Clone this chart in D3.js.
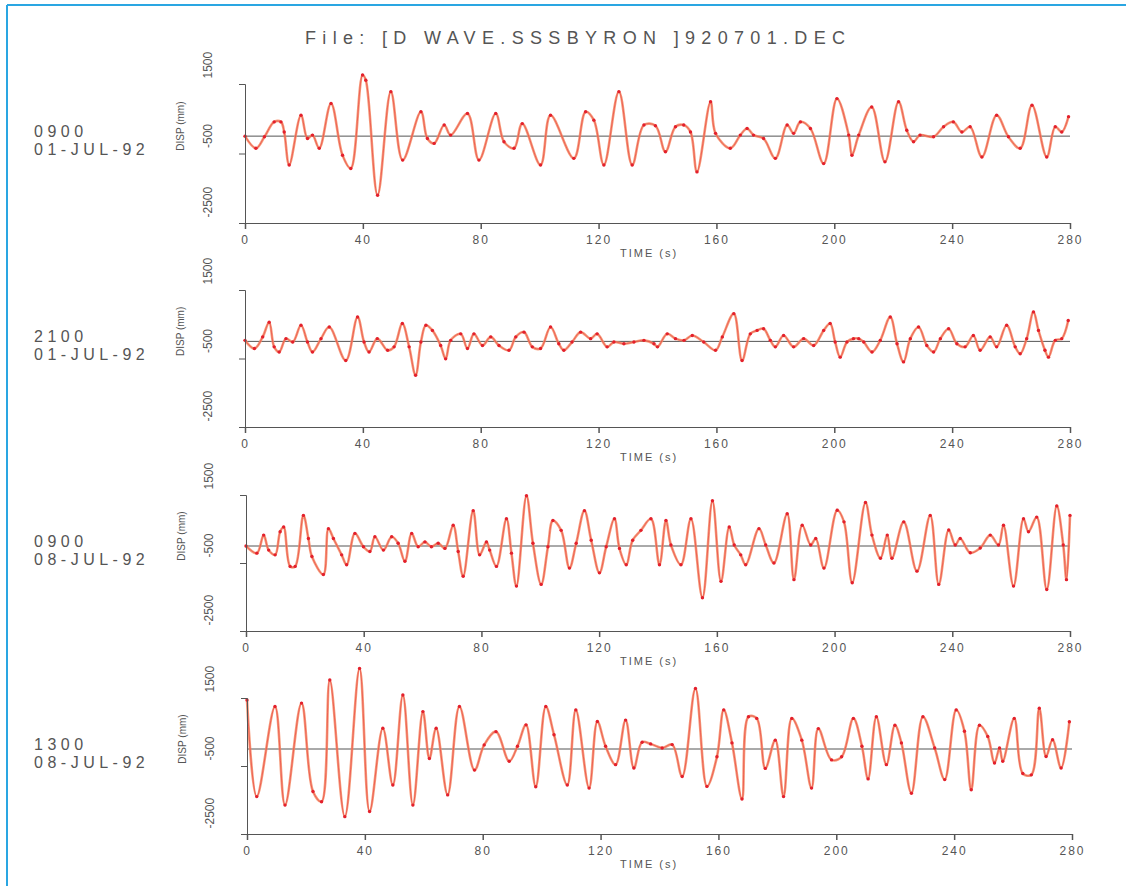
<!DOCTYPE html>
<html>
<head>
<meta charset="utf-8" />
<title>wave records</title>
<script src="https://cdn.jsdelivr.net/npm/d3@7"></script>
<style>
  body { margin: 0; background: #fff; }
  svg { display: block; }
  text { font-family: "Liberation Sans", Arial, sans-serif; fill: #555; }
</style>
</head>
<body>
<svg width="1126" height="886"></svg>
<script>
// time (s), displacement (mm) at its turning points
var wave0900_01 = [[0,0],[3.7,-350],[6.6,-20],[9.9,410],[12.2,410],[13.3,120],[15,-830],[19,600],[21.2,-70],[22.9,30],[25.2,-350],[29.2,940],[33.1,-550],[35.9,-930],[39.9,1760],[41,1610],[45,-1700],[49.5,1280],[53.5,-690],[59.7,700],[61.9,-70],[64.2,-210],[67.6,320],[69.8,30],[75.5,650],[79.4,-690],[85.1,650],[87.9,-160],[91.3,-350],[94.1,360],[100.3,-830],[103.7,600],[111.6,-640],[115.6,700],[118.4,460],[121.8,-830],[126.9,1280],[131.4,-830],[135.4,320],[139.3,300],[142.7,-450],[146.1,270],[148.9,320],[151.2,120],[153.4,-1030],[158,990],[159.7,80],[164.7,-350],[168.1,30],[170.4,220],[172.6,30],[176,-70],[180,-640],[184,320],[186.2,80],[188.5,410],[191.9,220],[196.4,-790],[200.9,1080],[204.9,30],[206,-550],[208.3,30],[212.7,840],[217.2,-740],[221.8,990],[224.6,170],[226.9,-160],[229.1,30],[233.7,-20],[237.1,270],[240.4,410],[243.3,120],[246.1,270],[250.1,-600],[255.1,600],[259.1,-20],[263.1,-350],[267.1,890],[272.1,-600],[275,270],[277.2,120],[279.5,560]];

var wave2100_01 = [[0,30],[3.2,-210],[6,130],[8.2,560],[9.9,-160],[11.6,-310],[13.9,80],[16.2,-20],[19,470],[21.2,-20],[22.9,-310],[25.8,80],[28.6,420],[34.2,-560],[38.2,710],[40.4,-20],[42.1,-310],[44.9,80],[48.4,-260],[50.6,-160],[53.4,520],[55.7,-160],[57.9,-990],[59.7,-20],[61.4,470],[63.6,320],[66.4,-120],[68.1,-510],[69.8,30],[73.2,220],[75.5,-210],[77.7,220],[80.6,-120],[83.4,130],[86.2,-120],[89.6,-260],[91.9,130],[94.7,270],[97.5,-160],[100.3,-210],[103.7,420],[106.5,-70],[108.2,-260],[111,-20],[113.9,270],[117.3,80],[119.5,220],[122.9,-160],[125.2,-20],[128.6,-70],[132,-20],[135.4,30],[138.8,-70],[140,-160],[143.3,220],[146.1,80],[149,30],[151.8,170],[155.7,-20],[159.7,-260],[162,130],[165.9,810],[168.7,-560],[171.5,220],[173.8,320],[176,370],[178.3,30],[180,-160],[182.8,170],[186.2,-160],[189.6,80],[193,-120],[196.4,320],[198.6,520],[200.3,-20],[202,-460],[204.3,-20],[206.5,80],[208.3,80],[210,-20],[212.8,-310],[215.6,30],[219,710],[221.3,-70],[223.5,-600],[225.8,80],[228.6,420],[231.4,-120],[233.7,-310],[236,80],[238.8,370],[241.6,-70],[244.4,-160],[247.2,170],[249.5,-260],[252.9,130],[255.1,-160],[258.5,470],[261.4,-160],[263.1,-360],[265.3,80],[267.6,860],[269.3,320],[271.5,-260],[272.7,-460],[275,30],[277.2,80],[279.4,610]];

var wave0900_08 = [[0,0],[3.7,-210],[6,320],[7.7,-120],[9.9,-260],[11.6,420],[12.8,560],[15,-600],[16.7,-600],[19.5,900],[21.2,220],[22.4,-310],[26.3,-840],[28,510],[29.7,220],[32.5,-260],[34.2,-550],[37,370],[39.9,-20],[42.1,-160],[43.8,270],[46.7,-120],[49.5,270],[51.7,80],[54,-450],[56.3,370],[58.5,-20],[60.8,120],[63,-20],[65.3,80],[67.6,-70],[70.4,610],[72.1,-160],[73.8,-890],[77.2,1040],[79.4,-260],[81.7,120],[82.8,-120],[85.1,-600],[88.5,800],[90.2,-210],[91.9,-1180],[95.3,1480],[97.5,80],[100.3,-1130],[102.6,-20],[104.3,750],[107.1,460],[109.9,-650],[112.2,80],[115,1040],[117.3,170],[120.1,-790],[122.4,-20],[125.2,800],[126.9,-70],[129.2,-550],[131.4,170],[134.2,460],[137.6,800],[140.5,-550],[142.7,750],[144.4,30],[147.8,-550],[151.2,800],[155.1,-1520],[158.5,1330],[161.4,-1040],[164.2,560],[165.9,30],[168.1,-260],[169.8,-550],[174.3,510],[176.6,30],[179.4,-500],[183.9,950],[186.2,-990],[189,610],[191.9,30],[193.6,220],[196.4,-650],[200.9,1050],[203.2,710],[206,-1080],[210.5,1280],[212.7,320],[215.6,-360],[217.9,320],[219.5,-360],[223.5,710],[228,-740],[232.5,900],[235.4,-1130],[238.8,470],[241,30],[242.7,220],[246.1,-200],[249.5,-60],[252.9,320],[255.7,30],[257.4,610],[260.8,-1180],[264.2,800],[265.9,420],[268.7,850],[272.1,-1280],[275.5,1180],[277.7,30],[278.8,-990],[280,900]];

var wave1300_08 = [[0,1440],[3.3,-1400],[9.5,1250],[12.9,-1650],[18.5,1350],[22.4,-1250],[25.3,-1550],[28.1,2030],[33.2,-1990],[38.2,2370],[41.6,-1840],[46.1,610],[49.5,-1060],[52.9,1590],[56.3,-1650],[59.7,1100],[61.9,-280],[64.2,610],[68.1,-1350],[72.1,1250],[77.2,-620],[80.5,120],[84.5,510],[89,-360],[91.8,80],[94.7,710],[98,-1110],[101.4,1250],[104.2,420],[108.7,-1060],[111.6,1150],[116.1,-1150],[118.9,810],[121.7,80],[125.1,-460],[128.5,850],[131.3,-560],[134.1,200],[137,150],[140.9,30],[144.3,130],[147.7,-810],[152.2,1780],[156.1,-1100],[159.5,-230],[161.8,1150],[164.6,180],[168,-1470],[170.2,950],[173,900],[175.9,-570],[179.3,260],[182.1,-1400],[184.9,900],[188.3,260],[191.6,-1150],[193.9,600],[198.4,-320],[201.8,-230],[205.8,900],[208.7,80],[210.8,-880],[213.6,950],[217,-460],[219.9,700],[222.1,180],[225.5,-1300],[229.4,950],[233.4,30],[236.8,-900],[240.7,1150],[243.5,520],[245.8,-1200],[248.6,700],[251.4,370],[253.7,-410],[255.4,30],[256.5,-360],[260.4,900],[263.3,-720],[266.2,-760],[268.9,1200],[271.2,-220],[273.4,270],[276.3,-560],[279.1,800]];

var series = [wave0900_01, wave2100_01, wave0900_08, wave1300_08];
var hours = ["0900", "2100", "0900", "1300"];
var dates = ["01-JUL-92", "01-JUL-92", "08-JUL-92", "08-JUL-92"];
var timeTicks = [0, 40, 80, 120, 160, 200, 240, 280];
var dispTicks = [1500, -500, -2500];
var dispDomain = [-2500, 1500];
var timeDomain = [0, 280];
var title = "File: [D WAVE.SSSBYRON ]920701.DEC";

var svg = d3.select("svg");

// scan frame: blue rule on top and left only
svg.append("line").attr("x1", 7).attr("y1", 5).attr("x2", 1126).attr("y2", 5)
  .attr("stroke", "#2aa6e2").attr("stroke-width", 2);
svg.append("line").attr("x1", 7).attr("y1", 5).attr("x2", 7).attr("y2", 886)
  .attr("stroke", "#2aa6e2").attr("stroke-width", 2);

svg.append("text")
  .attr("x", 305).attr("y", 44)
  .attr("textLength", 540).attr("lengthAdjust", "spacing")
  .style("font-size", "18px")
  .text(title);

var panelTop = [84, 290, 495, 698];
var panelBottom = [223, 427, 631, 834];
var panelLeft = [245, 245, 246, 247];
var panelRight = [1070, 1070, 1070, 1072];

var line = d3.line()
  .x(d => d[0])
  .y(d => d[1])
  .curve(d3.curveCatmullRom.alpha(0.5));

series.forEach(function (data, i) {
  var x = d3.scaleLinear().domain(timeDomain).range([panelLeft[i], panelRight[i]]);
  var y = d3.scaleLinear().domain(dispDomain).range([panelBottom[i], panelTop[i]]);
  var g = svg.append("g");

  // zero line
  g.append("line")
    .attr("x1", x(0)).attr("x2", x(280))
    .attr("y1", y(0)).attr("y2", y(0))
    .attr("stroke", "#555").attr("stroke-width", 1);

  var pts = data.map(d => [x(d[0]), y(d[1])]);

  g.append("path")
    .attr("d", line(pts))
    .attr("fill", "none")
    .attr("stroke", "#f58a64")
    .attr("stroke-width", 2.6)
    .attr("stroke-opacity", 0.85);
  g.append("path")
    .attr("d", line(pts))
    .attr("fill", "none")
    .attr("stroke", "#e83a3a")
    .attr("stroke-width", 1)
    .attr("stroke-opacity", 0.6);
  g.selectAll("circle")
    .data(pts)
    .enter()
    .append("circle")
    .attr("cx", d => d[0])
    .attr("cy", d => d[1])
    .attr("r", 1.7)
    .attr("fill", "#e3202c");

  // x axis
  var xa = g.append("g")
    .attr("transform", "translate(0," + panelBottom[i] + ")")
    .call(d3.axisBottom(x).tickValues(timeTicks).tickSize(6).tickPadding(6));
  xa.select(".domain").attr("stroke", "#555");
  xa.selectAll(".tick line").attr("stroke", "#555").attr("stroke-width", 1.5);
  xa.selectAll(".tick text")
    .style("font-size", "12px")
    .style("letter-spacing", "2px")
    .attr("fill", "#555");

  // y axis
  var ya = g.append("g")
    .attr("transform", "translate(" + panelLeft[i] + ",0)")
    .call(d3.axisLeft(y).tickValues(dispTicks).tickSize(6).tickFormat(d => String(d)));
  ya.select(".domain").attr("stroke", "#555");
  ya.selectAll(".tick line").attr("stroke", "#555");
  ya.selectAll(".tick text")
    .attr("transform", "rotate(-90)")
    .attr("x", 6).attr("y", -33).attr("dy", 0)
    .attr("text-anchor", "start")
    .style("font-size", "12px")
    .attr("fill", "#555");

  g.append("text")
    .attr("transform", "translate(" + (panelLeft[i] - 61) + "," + (y(0) - 10) + ") rotate(-90)")
    .attr("text-anchor", "middle")
    .style("font-size", "10px")
    .text("DISP (mm)");

  g.append("text")
    .attr("x", 620).attr("y", panelBottom[i] + 34)
    .style("font-size", "11px")
    .style("letter-spacing", "2px")
    .text("TIME (s)");

  g.append("text")
    .attr("x", 34).attr("y", y(0) + 1)
    .style("font-size", "16px")
    .style("letter-spacing", "4.5px")
    .text(hours[i]);
  g.append("text")
    .attr("x", 34).attr("y", y(0) + 19)
    .style("font-size", "16px")
    .style("letter-spacing", "4.5px")
    .text(dates[i]);
});
</script>
</body>
</html>
